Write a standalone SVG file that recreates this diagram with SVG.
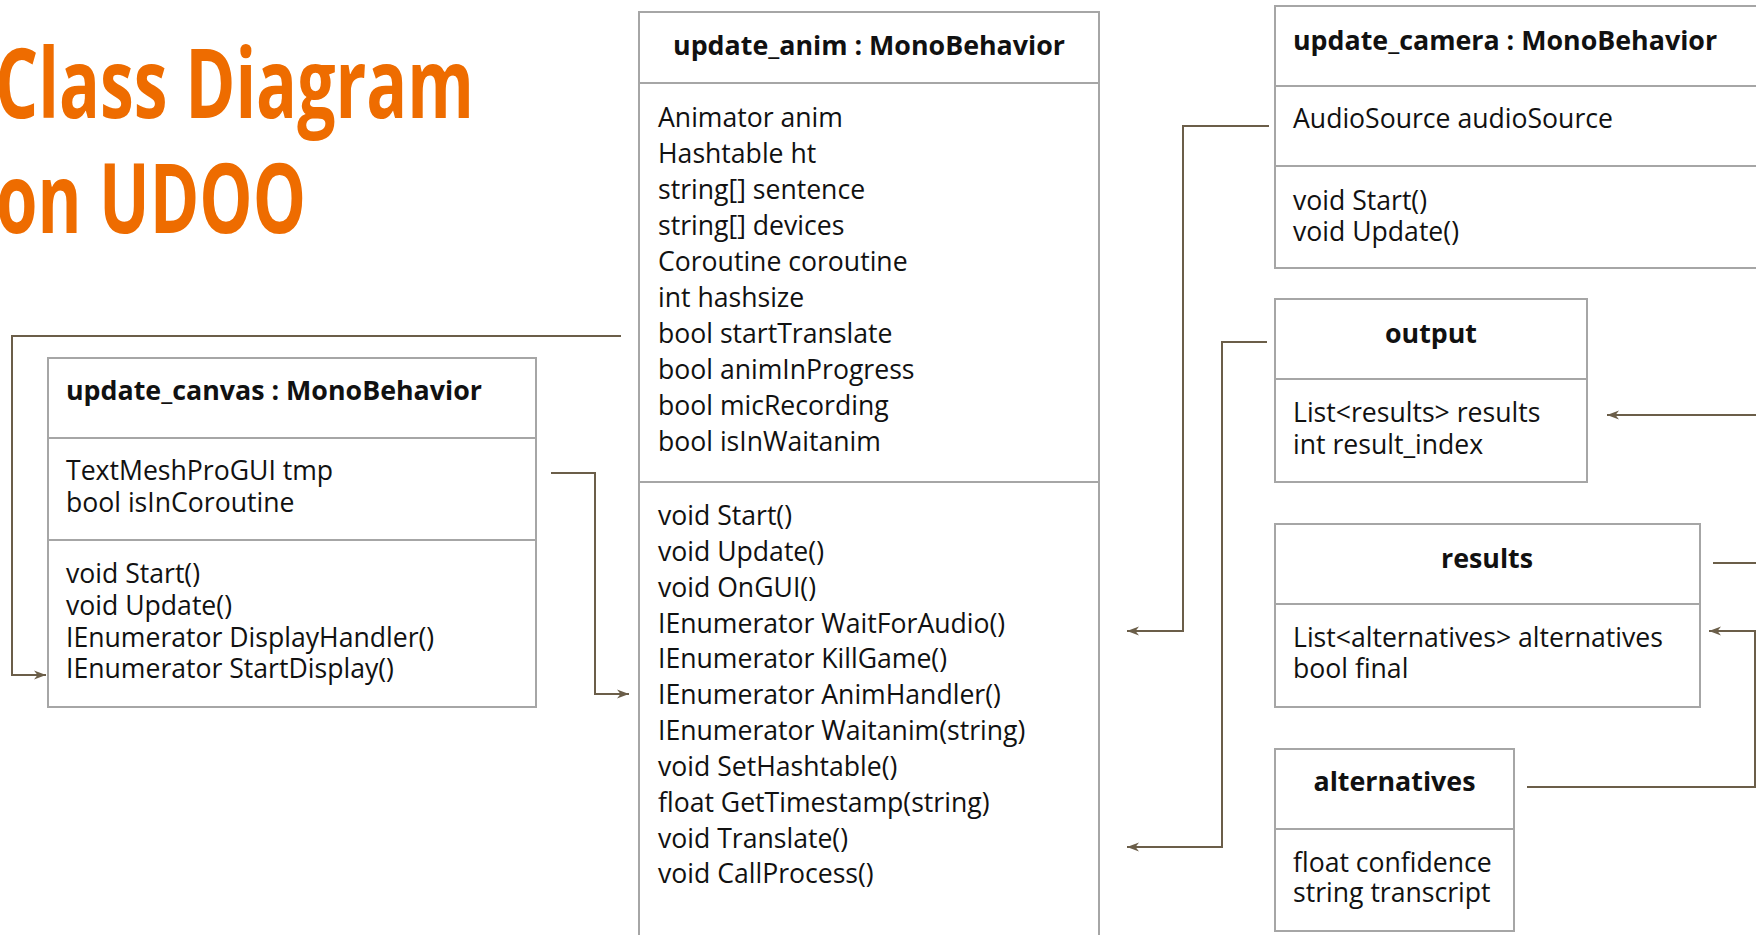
<svg xmlns="http://www.w3.org/2000/svg" width="1756" height="935" viewBox="0 0 1756 935">
<style>
.box{fill:#fff;stroke:#a6a6a6;stroke-width:2}
.div{stroke:#a6a6a6;stroke-width:2}
.t{font-family:"Open Sans","Liberation Sans",sans-serif;font-size:26.6px;fill:#111}
.h{font-family:"Open Sans","Liberation Sans",sans-serif;font-size:26.8px;font-weight:bold;fill:#111}
.c{text-anchor:middle}
.title{font-family:"Open Sans","Liberation Sans",sans-serif;font-size:96px;font-weight:bold;fill:#ee6c00}
.con{fill:none;stroke:#6b5e49;stroke-width:2}
</style>
<defs>
<marker id="arr" viewBox="0 0 12 10" refX="12" refY="5" markerWidth="12" markerHeight="10" orient="auto" markerUnits="userSpaceOnUse">
<path d="M0,0.5 L12,5 L0,9.5 L3.5,5 Z" fill="#6b5e49"/>
</marker>
</defs>
<rect width="1756" height="935" fill="#fff"/>

<g id="title">
<text class="title" x="-5" y="118" textLength="479" lengthAdjust="spacingAndGlyphs">Class Diagram</text>
<text class="title" x="-4" y="233" textLength="310" lengthAdjust="spacingAndGlyphs">on UDOO</text>
</g>

<g id="update_canvas">
<rect class="box" x="48" y="358" width="488" height="349"/>
<line class="div" x1="48" y1="438" x2="536" y2="438"/>
<line class="div" x1="48" y1="540" x2="536" y2="540"/>
<text class="h" x="66" y="400">update_canvas : MonoBehavior</text>
<text class="t" x="66" y="480">TextMeshProGUI tmp</text>
<text class="t" x="66" y="512">bool isInCoroutine</text>
<text class="t" x="66" y="583">void Start()</text>
<text class="t" x="66" y="615">void Update()</text>
<text class="t" x="66" y="647">IEnumerator DisplayHandler()</text>
<text class="t" x="66" y="678">IEnumerator StartDisplay()</text>
</g>

<g id="update_anim">
<rect class="box" x="639" y="12" width="460" height="950"/>
<line class="div" x1="639" y1="83" x2="1099" y2="83"/>
<line class="div" x1="639" y1="482" x2="1099" y2="482"/>
<text class="h c" x="869" y="55">update_anim : MonoBehavior</text>
<text class="t" x="658" y="127">Animator anim</text>
<text class="t" x="658" y="163">Hashtable ht</text>
<text class="t" x="658" y="199">string[] sentence</text>
<text class="t" x="658" y="235">string[] devices</text>
<text class="t" x="658" y="271">Coroutine coroutine</text>
<text class="t" x="658" y="307">int hashsize</text>
<text class="t" x="658" y="343">bool startTranslate</text>
<text class="t" x="658" y="379">bool animInProgress</text>
<text class="t" x="658" y="415">bool micRecording</text>
<text class="t" x="658" y="451">bool isInWaitanim</text>
<text class="t" x="658" y="525">void Start()</text>
<text class="t" x="658" y="561">void Update()</text>
<text class="t" x="658" y="597">void OnGUI()</text>
<text class="t" x="658" y="633">IEnumerator WaitForAudio()</text>
<text class="t" x="658" y="668">IEnumerator KillGame()</text>
<text class="t" x="658" y="704">IEnumerator AnimHandler()</text>
<text class="t" x="658" y="740">IEnumerator Waitanim(string)</text>
<text class="t" x="658" y="776">void SetHashtable()</text>
<text class="t" x="658" y="812">float GetTimestamp(string)</text>
<text class="t" x="658" y="848">void Translate()</text>
<text class="t" x="658" y="883">void CallProcess()</text>
</g>

<g id="update_camera">
<rect class="box" x="1275" y="6" width="500" height="262"/>
<line class="div" x1="1275" y1="86" x2="1775" y2="86"/>
<line class="div" x1="1275" y1="166" x2="1775" y2="166"/>
<text class="h" x="1293" y="50">update_camera : MonoBehavior</text>
<text class="t" x="1293" y="128">AudioSource audioSource</text>
<text class="t" x="1293" y="210">void Start()</text>
<text class="t" x="1293" y="241">void Update()</text>
</g>

<g id="output">
<rect class="box" x="1275" y="299" width="312" height="183"/>
<line class="div" x1="1275" y1="379" x2="1587" y2="379"/>
<text class="h c" x="1431" y="343">output</text>
<text class="t" x="1293" y="422">List&lt;results&gt; results</text>
<text class="t" x="1293" y="454">int result_index</text>
</g>

<g id="results">
<rect class="box" x="1275" y="524" width="425" height="183"/>
<line class="div" x1="1275" y1="604" x2="1700" y2="604"/>
<text class="h c" x="1487" y="568">results</text>
<text class="t" x="1293" y="647">List&lt;alternatives&gt; alternatives</text>
<text class="t" x="1293" y="678">bool final</text>
</g>

<g id="alternatives">
<rect class="box" x="1275" y="749" width="239" height="182"/>
<line class="div" x1="1275" y1="829" x2="1514" y2="829"/>
<text class="h c" x="1394.5" y="791">alternatives</text>
<text class="t" x="1293" y="872">float confidence</text>
<text class="t" x="1293" y="902">string transcript</text>
</g>

<g id="connectors">
<path class="con" d="M621,336 H12 V675 H46" marker-end="url(#arr)"/>
<path class="con" d="M551,473 H595 V694 H629" marker-end="url(#arr)"/>
<path class="con" d="M1269,126 H1183 V631 H1127" marker-end="url(#arr)"/>
<path class="con" d="M1267,342 H1222 V847 H1127" marker-end="url(#arr)"/>
<path class="con" d="M1760,415 H1607" marker-end="url(#arr)"/>
<path class="con" d="M1713,563 H1760"/>
<path class="con" d="M1527,787 H1755 V631 H1709" marker-end="url(#arr)"/>
</g>
</svg>
